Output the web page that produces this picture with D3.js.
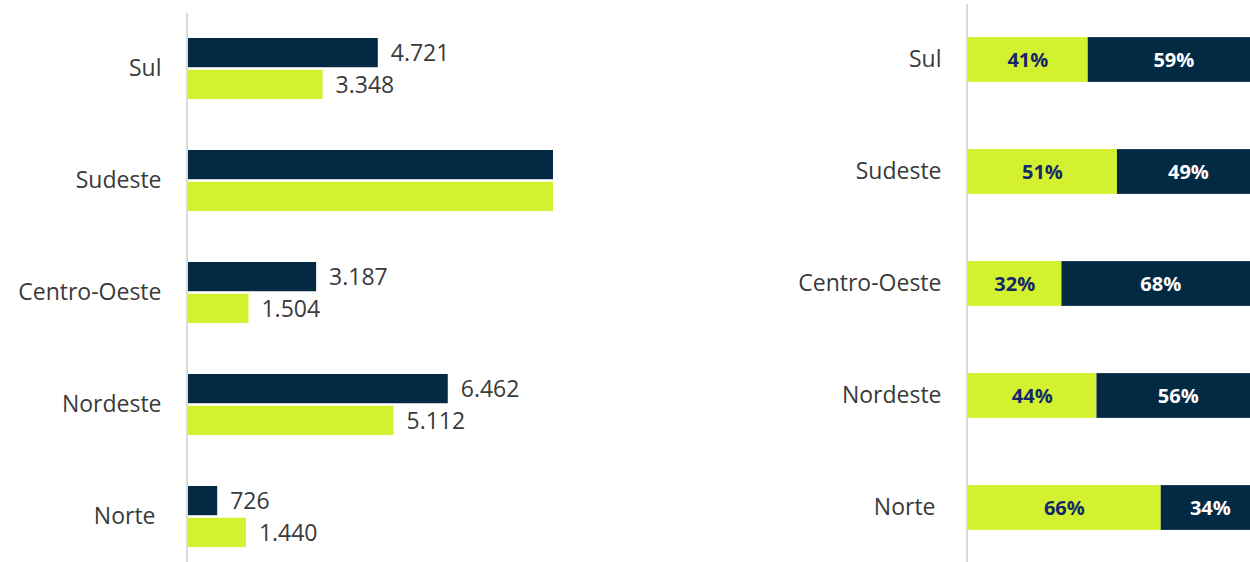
<!DOCTYPE html>
<html lang="pt-BR">
<head>
<meta charset="utf-8">
<script src="https://cdn.jsdelivr.net/npm/d3@7"></script>
<style>
  html, body { margin: 0; padding: 0; background: #ffffff; overflow: hidden; }
  svg { display: block; font-family: "Open Sans", "Noto Sans", sans-serif; }
</style>
</head>
<body>
<svg id="chart" width="1250" height="562"></svg>
<script>
// Regiões e valores absolutos (série escura e série clara)
const regioes = ["Sul", "Sudeste", "Centro-Oeste", "Nordeste", "Norte"];
const valoresEscura = [4721, 14250, 3187, 6462, 726];
const valoresClara = [3348, 14830, 1504, 5112, 1440];

// Participação percentual de cada série por região
const pctClara = [41, 51, 32, 44, 66];
const pctEscura = [59, 49, 68, 56, 34];

// Limite visível do eixo de valores do painel esquerdo
const limiteEixo = 9080;

const corEscura = "#032a43";
const corClara = "#d3f12e";
const corTexto = "#3a3a3a";
const corEixo = "#d9d9d9";
const tamRotulo = 23;

const svg = d3.select("#chart");
const fmt = d3.formatLocale({ decimal: ",", thousands: ".", grouping: [3], currency: ["R$", ""] }).format(",d");

// ---------- Painel esquerdo: barras agrupadas ----------
const yEsq = d3.scaleBand().domain(regioes).range([12.5, 572.5])
  .paddingInner(0.455).paddingOuter(0.2275);
const ySerie = d3.scaleBand().domain(["escura", "clara"])
  .range([0, yEsq.bandwidth()]).paddingInner(0.08);
const xEsq = d3.scaleLinear().domain([0, limiteEixo]).range([188, 553]).clamp(true);

const linhas = regioes.map((r, i) => ({
  regiao: r,
  series: [
    { chave: "escura", valor: valoresEscura[i], cor: corEscura },
    { chave: "clara", valor: valoresClara[i], cor: corClara }
  ]
}));

const grupos = svg.append("g").selectAll("g").data(linhas).join("g")
  .attr("transform", d => `translate(0,${yEsq(d.regiao)})`);

grupos.selectAll("rect").data(d => d.series).join("rect")
  .attr("x", xEsq(0))
  .attr("y", d => ySerie(d.chave))
  .attr("width", d => xEsq(d.valor) - xEsq(0))
  .attr("height", ySerie.bandwidth())
  .attr("fill", d => d.cor);

grupos.selectAll("text").data(d => d.series.filter(s => s.valor <= limiteEixo)).join("text")
  .attr("x", d => xEsq(d.valor) + 13)
  .attr("y", d => ySerie(d.chave) + ySerie.bandwidth() / 2)
  .attr("dy", "0.36em")
  .attr("font-size", tamRotulo)
  .attr("fill", corTexto)
  .text(d => fmt(d.valor));

svg.append("g")
  .attr("transform", "translate(186.5,0)")
  .call(d3.axisLeft(yEsq).tickSize(0).tickSizeOuter(0).tickPadding(25)
    .tickFormat(d => d === "Norte" ? "Norte\u00a0" : d));

// ---------- Painel direito: barras 100% empilhadas ----------
const yDir = d3.scaleBand().domain(regioes).range([3.5, 563.5])
  .paddingInner(0.6).paddingOuter(0.3);
const xDir = d3.scaleLinear().domain([0, 100]).range([968, 1260]);

const empilhado = regioes.map((r, i) => ({ regiao: r, clara: pctClara[i], escura: pctEscura[i] }));
const pilha = d3.stack().keys(["clara", "escura"])(empilhado);
const coresPilha = { clara: corClara, escura: corEscura };
const textoPilha = { clara: "#15296a", escura: "#ffffff" };

const camadas = svg.append("g").selectAll("g").data(pilha).join("g")
  .attr("fill", d => coresPilha[d.key]);

camadas.selectAll("rect").data(d => d).join("rect")
  .attr("x", d => xDir(d[0]))
  .attr("y", d => yDir(d.data.regiao))
  .attr("width", d => xDir(d[1]) - xDir(d[0]))
  .attr("height", yDir.bandwidth());

camadas.selectAll("text").data(d => d.map(p => ({ chave: d.key, p }))).join("text")
  .attr("x", d => (xDir(d.p[0]) + xDir(d.p[1])) / 2)
  .attr("y", d => yDir(d.p.data.regiao) + yDir.bandwidth() / 2)
  .attr("dy", "0.36em")
  .attr("text-anchor", "middle")
  .attr("font-size", 20)
  .attr("font-weight", 700)
  .attr("fill", d => textoPilha[d.chave])
  .text(d => `${d.p.data[d.chave]}%`);

svg.append("g")
  .attr("transform", "translate(966.5,0)")
  .call(d3.axisLeft(yDir).tickSize(0).tickSizeOuter(0).tickPadding(25)
    .tickFormat(d => d === "Norte" ? "Norte\u00a0" : d));

// Estilo comum dos eixos de categorias
svg.selectAll(".domain").attr("stroke", corEixo).attr("stroke-width", 2);
svg.selectAll(".tick text")
  .attr("font-size", tamRotulo)
  .attr("fill", corTexto)
  .attr("font-family", "\"Open Sans\", \"Noto Sans\", sans-serif");
</script>
</body>
</html>
